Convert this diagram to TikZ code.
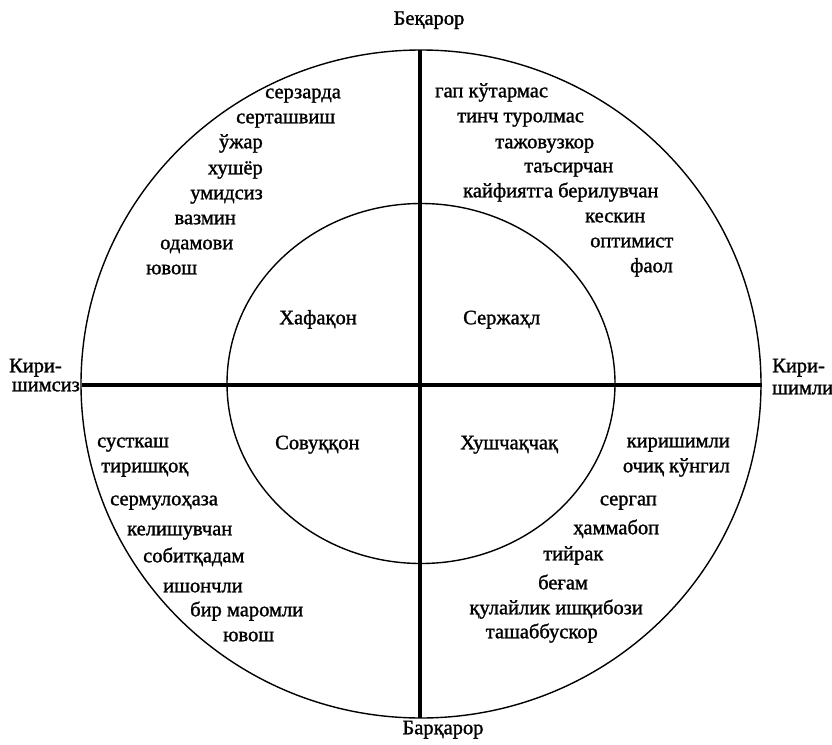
\documentclass[tikz,border=0pt]{standalone}
\usepackage{fontspec}
\setmainfont[FakeBold=1.3]{Liberation Serif}
\begin{document}
\begin{tikzpicture}[x=1pt,y=-1pt,
  lbl/.style={font=\fontsize{20.5}{24}\selectfont, inner sep=0pt, text height=0.45em, text depth=0pt},
  wl/.style={lbl, anchor=west},
  el/.style={lbl, anchor=east},
  axis/.style={line width=3.6pt},
  ring/.style={line width=1.4pt}]
\useasboundingbox (0,0) rectangle (832,744);
% geometry
\coordinate (C) at (421,384);
\coordinate (T) at (420,50);
\coordinate (B) at (420,718);
\coordinate (L) at (82,385);
\coordinate (R) at (762,385);
\draw[ring] (C) ellipse [x radius=340pt, y radius=334pt];
\draw[ring] (421,383.5) ellipse [x radius=194pt, y radius=180pt];
\draw[axis] (T) -- (B);
\draw[axis] (L) -- (R);
% poles
\node[lbl] (top) at (429,22.5) {Беқарор};
\node[lbl] (bot) at (443,732) {Барқарор};
\node[el] (l1) at (62,370) {Кири-};
\node[el] (l2) at (80,389) {шимсиз};
\node[wl] (r1) at (772,370) {Кири-};
\node[wl] (r2) at (772,392) {шимли};
% inner
\node[lbl] (q1) at (318,322) {Хафақон};
\node[wl] (q2) at (463,322) {Сержаҳл};
\node[wl] (q3) at (275,447) {Совуққон};
\node[wl] (q4) at (460,447) {Хушчақчақ};
% top-left
\node[wl] (a1) at (265,96) {серзарда};
\node[wl] (a2) at (236,121) {серташвиш};
\node[el] (a3) at (263,146) {ўжар};
\node[el] (a4) at (263,172) {хушёр};
\node[el] (a5) at (263,197) {умидсиз};
\node[el] (a6) at (236,222) {вазмин};
\node[wl] (a7) at (160,247) {одамови};
\node[wl] (a8) at (146,272) {ювош};
% top-right
\node[wl] (b1) at (435,95) {гап кўтармас};
\node[wl] (b2) at (457,120) {тинч туролмас};
\node[wl] (b3) at (495,146) {тажовузкор};
\node[wl] (b4) at (524,170) {таъсирчан};
\node[wl] (b5) at (463,195) {кайфиятга берилувчан};
\node[wl] (b6) at (585,220) {кескин};
\node[wl] (b7) at (590,245) {оптимист};
\node[wl] (b8) at (630,270) {фаол};
% bottom-left
\node[wl] (c1) at (97,445) {сусткаш};
\node[wl] (c2) at (101,470) {тиришқоқ};
\node[wl] (c3) at (110,503) {сермулоҳаза};
\node[wl] (c4) at (127,533) {келишувчан};
\node[wl] (c5) at (143,560) {собитқадам};
\node[wl] (c6) at (163,590) {ишончли};
\node[wl] (c7) at (190,614) {бир маромли};
\node[wl] (c8) at (223,639) {ювош};
% bottom-right
\node[el] (d1) at (730,445) {киришимли};
\node[el] (d2) at (730,470) {очиқ кўнгил};
\node[el] (d3) at (657,503) {сергап};
\node[wl] (d4) at (573,532) {ҳаммабоп};
\node[wl] (d5) at (543,558) {тийрак};
\node[wl] (d6) at (538,587) {беғам};
\node[el] (d7) at (643,612) {қулайлик ишқибози};
\node[el] (d8) at (598,636) {ташаббускор};
\end{tikzpicture}
\end{document}
